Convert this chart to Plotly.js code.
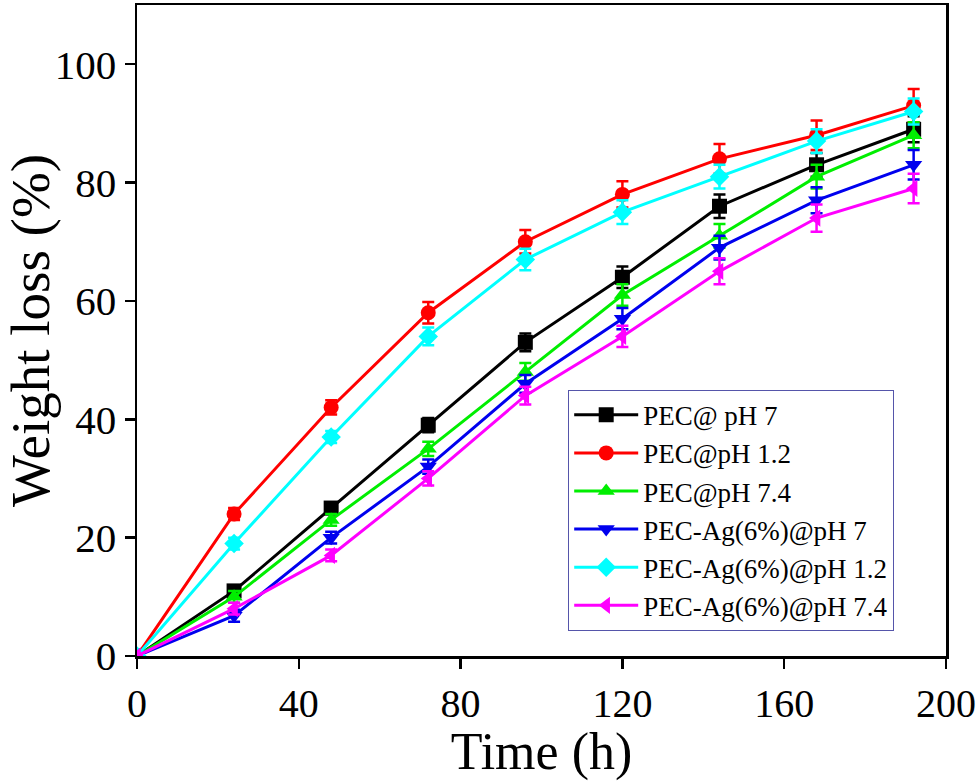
<!DOCTYPE html>
<html>
<head>
<meta charset="utf-8">
<script src="https://cdn.plot.ly/plotly-3.0.1.min.js"></script>
<style>html,body{margin:0;padding:0;background:#fff;}#chart{width:980px;height:781px;}</style>
</head>
<body>
<div id="chart"></div>
<script>
const timeH = [0, 24, 48, 72, 96, 120, 144, 168, 192];

const seriesNames = ["PEC@ pH 7", "PEC@pH 1.2", "PEC@pH 7.4", "PEC-Ag(6%)@pH 7", "PEC-Ag(6%)@pH 1.2", "PEC-Ag(6%)@pH 7.4"];

const pecPH7 = [0, 11, 25, 39, 53, 64, 76, 83, 89];
const pecPH12 = [0, 24, 42, 58, 70, 78, 84, 88, 93];
const pecPH74 = [0, 10, 23, 35, 48, 61, 71, 81, 88];
const agPH7 = [0, 6.8, 20, 32, 46, 57, 69, 77, 83];
const agPH12 = [0, 19, 37, 54, 67, 75, 81, 87, 92];
const agPH74 = [0, 8, 17, 30, 44, 54, 65, 74, 79];

const errPH7 = [0, 0.8, 1, 1.2, 1.5, 1.8, 2, 2, 2.2];
const errPH12 = [0, 1, 1.2, 1.8, 2, 2.2, 2.5, 2.5, 2.8];
const errPH74 = [0, 1, 1, 1.2, 1.5, 1.8, 2, 2, 2.2];
const errAgPH7 = [0, 1, 1, 1.2, 1.5, 1.8, 2, 2.2, 2.5];
const errAgPH12 = [0, 1, 1, 1.5, 1.8, 2, 2, 2, 2.2];
const errAgPH74 = [0, 1, 1, 1.2, 1.5, 1.8, 2.2, 2.3, 2.5];

const xTicks = [0, 40, 80, 120, 160, 200];
const yTicks = [0, 20, 40, 60, 80, 100];

const values = [pecPH7, pecPH12, pecPH74, agPH7, agPH12, agPH74];
const errors = [errPH7, errPH12, errPH74, errAgPH7, errAgPH12, errAgPH74];
const colors = ["#000000", "#ff0000", "#00ee00", "#0000ee", "#00ffff", "#ff00ff"];
const symbols = ["square", "circle", "triangle-up", "triangle-down", "diamond", "triangle-left"];

const FONT = "'Liberation Serif', 'Times New Roman', serif";

const traces = values.map((v, i) => ({
  x: timeH,
  y: v,
  name: seriesNames[i],
  type: "scatter",
  mode: "lines+markers",
  line: {color: colors[i], width: 3},
  marker: {color: colors[i], symbol: symbols[i], size: 15},
  error_y: {type: "data", array: errors[i], visible: true, color: colors[i], thickness: 2.5, width: 6}
}));

const layout = {
  width: 980,
  height: 781,
  margin: {l: 137, r: 34, t: 5, b: 125},
  paper_bgcolor: "#ffffff",
  plot_bgcolor: "#ffffff",
  font: {family: FONT, color: "#000"},
  showlegend: true,
  legend: {
    x: 0.533, y: 0.409, xanchor: "left", yanchor: "top",
    bgcolor: "#ffffff", bordercolor: "#5555aa", borderwidth: 1,
    font: {family: FONT, size: 27, color: "#000"},
    itemwidth: 64
  },
  xaxis: {
    range: [0, 200],
    tickvals: xTicks,
    ticktext: xTicks.map(String),
    ticks: "outside", ticklen: 10, tickwidth: 2.5, tickcolor: "#000",
    showline: true, linecolor: "#000", linewidth: 2.5, mirror: true,
    showgrid: false, zeroline: false,
    tickfont: {family: FONT, size: 40, color: "#000"},
    title: {text: "Time (h)", font: {family: FONT, size: 52, color: "#000"}, standoff: 8}
  },
  yaxis: {
    range: [0, 110],
    tickvals: yTicks,
    ticktext: yTicks.map(String),
    ticks: "outside", ticklen: 10, tickwidth: 2.5, tickcolor: "#000",
    showline: true, linecolor: "#000", linewidth: 2.5, mirror: true,
    showgrid: false, zeroline: false,
    tickfont: {family: FONT, size: 41, color: "#000"},
    title: {text: "Weight loss (%)", font: {family: FONT, size: 55, color: "#000"}, standoff: 4}
  }
};

Plotly.newPlot("chart", traces, layout, {displayModeBar: false, staticPlot: true});
</script>
</body>
</html>
